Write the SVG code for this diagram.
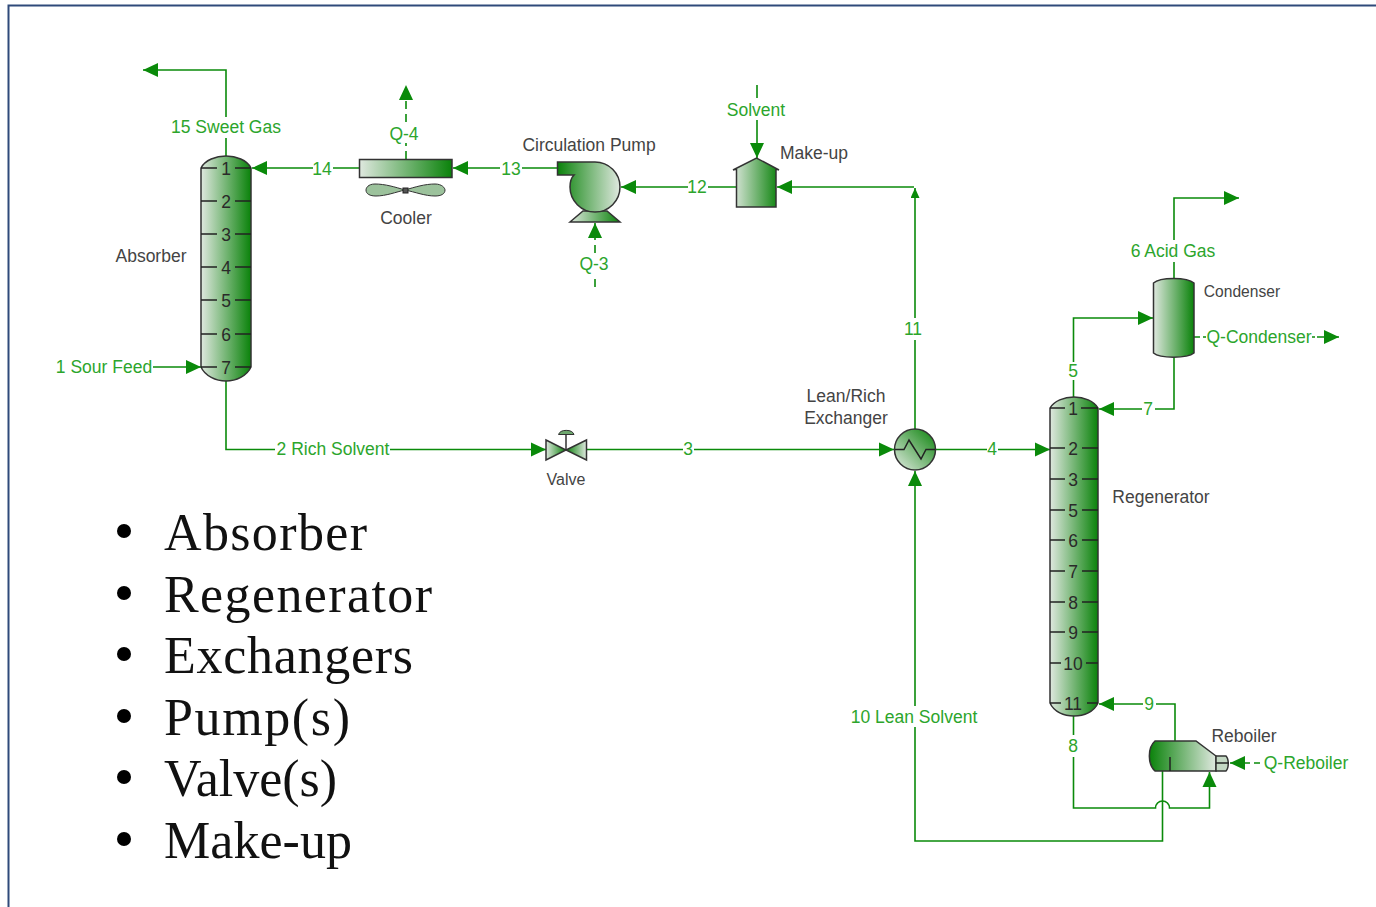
<svg xmlns="http://www.w3.org/2000/svg" width="1376" height="907" viewBox="0 0 1376 907">
<style>
.c{fill:none;stroke:#0a8a0a;stroke-width:1.6}
.d{stroke-dasharray:8 5}
.s{stroke:#333;stroke-width:1.5}
.t{stroke:#222;stroke-width:1.5;fill:none}
text{font-family:"Liberation Sans",Arial,sans-serif;transform:translateY(.8px)}
.g{font-size:17.500px;fill:#2ca52c;text-anchor:middle}
.k{font-size:17.500px;fill:#444;text-anchor:middle}
.n{font-size:17.500px;fill:#2a2a2a;text-anchor:middle}
.b{font-family:"Liberation Serif",serif;font-size:52px;fill:#111}
</style>
<defs>
<linearGradient id="lr"><stop offset="0" stop-color="#dfe8df"/><stop offset="1" stop-color="#0a820a"/></linearGradient>
<linearGradient id="rl"><stop offset="0" stop-color="#0a820a"/><stop offset="1" stop-color="#dfe8df"/></linearGradient>
<linearGradient id="dg" x1="0" y1="1" x2="1" y2="0"><stop offset="0" stop-color="#e4ece4"/><stop offset="1" stop-color="#0a820a"/></linearGradient>
<marker id="a" markerUnits="userSpaceOnUse" markerWidth="16" markerHeight="16" refX="15" refY="7.500" orient="auto"><path d="M0 0.500L15 7.500L0 14.500Z" fill="#0a8a0a"/></marker>
<marker id="m" markerUnits="userSpaceOnUse" markerWidth="11" markerHeight="10" refX="10" refY="4.500" orient="auto"><path d="M0 0L10 4.500L0 9Z" fill="#0a8a0a"/></marker>
</defs>
<path d="M8.500 907V5.500H1376" fill="none" stroke="#2f4a7a" stroke-width="2"/>
<g id="connectors">
<path class="c" d="M226 157V138M226 117V70H143" marker-end="url(#a)"/>
<path class="c" d="M359 168H333M313 168H252" marker-end="url(#a)"/>
<path class="c" d="M557 168H522M500 168H453" marker-end="url(#a)"/>
<path class="c" d="M736 187H708M688 187H621" marker-end="url(#a)"/>
<path class="c" d="M915 429V340M915 318V188" marker-end="url(#m)"/>
<path class="c" d="M914 187H777" marker-end="url(#a)"/>
<path class="c" d="M757 85V98M757 120V158" marker-end="url(#a)"/>
<path class="c d" d="M406 159V143"/>
<path class="c d" d="M406 122V85" marker-end="url(#a)"/>
<path class="c d" d="M595 287V275"/>
<path class="c d" d="M595 253V223" marker-end="url(#a)"/>
<path class="c" d="M153 367H201" marker-end="url(#a)"/>
<path class="c" d="M226 381V449.500H275M390 449.500H546" marker-end="url(#a)"/>
<path class="c" d="M587 449.500H683M694 449.500H894" marker-end="url(#a)"/>
<path class="c" d="M936 449.500H987M998 449.500H1050" marker-end="url(#a)"/>
<path class="c" d="M1073.500 397V380M1073.500 362V318H1153" marker-end="url(#a)"/>
<path class="c" d="M1174 278V262M1174 240V198H1239" marker-end="url(#a)"/>
<path class="c" d="M1174 357V409H1155M1142 409H1099" marker-end="url(#a)"/>
<path class="c" d="M1194 337H1200M1203 337H1206M1312 337H1315M1317 337H1339" marker-end="url(#a)"/>
<path class="c" d="M1073.500 716V735M1073.500 757V808H1155.500A7 7 0 0 1 1169.500 808H1209.500V772" marker-end="url(#a)"/>
<path class="c" d="M1175 741V704H1156M1143 704H1099" marker-end="url(#a)"/>
<path class="c" d="M1162.500 771V841H915V727M915 706V471" marker-end="url(#a)"/>
<path class="c" d="M1260 763H1254M1250 763H1230" marker-end="url(#a)"/>
</g>
<g id="absorber">
<path class="s" fill="url(#lr)" d="M201 168C205 160 216 156 226 156S247 160 251 168V367C247 376 236 381 226 381S205 376 201 367Z"/>
<path class="t" d="M201 168H217M235 168H251M201 201H217M235 201H251M201 234H217M235 234H251M201 267H217M235 267H251M201 300H217M235 300H251M201 334H217M235 334H251M201 367H217M235 367H251"/>
<text class="n" x="226" y="174">1</text>
<text class="n" x="226" y="207">2</text>
<text class="n" x="226" y="240">3</text>
<text class="n" x="226" y="273">4</text>
<text class="n" x="226" y="306">5</text>
<text class="n" x="226" y="340">6</text>
<text class="n" x="226" y="373">7</text>
<text class="k" x="151" y="261">Absorber</text>
</g>
<g id="cooler">
<rect class="s" x="359.500" y="159.500" width="92.500" height="18" fill="url(#lr)"/>
<path fill="#9cc29c" stroke="#333" d="M405 190C395 187 385 184 375 184C368 184 366 188 366 190C366 194 370 196 376 196C386 196 396 192 405 190C415 187 425 184 435 184C442 184 445 188 445 190C445 194 441 196 435 196C425 196 415 192 405 190Z"/>
<rect x="403" y="188" width="5" height="5" fill="#555" stroke="#222"/>
<text class="k" x="406" y="223">Cooler</text>
</g>
<g id="pump">
<path class="s" fill="url(#lr)" d="M570 222L583 211H607L620 222Z"/>
<path class="s" fill="url(#rl)" d="M557.500 162H595A25 25 0 1 1 570 187C570 182 571 178 574 175H557.500Z"/>
<text class="k" x="589" y="150">Circulation Pump</text>
</g>
<g id="makeup">
<path class="s" fill="url(#lr)" d="M736.500 207V169L733 170L756.500 158L779 170L776 169V207Z"/>
<text class="k" x="814" y="158">Make-up</text>
</g>
<g id="valve">
<path class="s" fill="url(#lr)" d="M546 440L566 450L546 460Z"/>
<path class="s" fill="url(#rl)" d="M586.500 440L566 450L586.500 460Z"/>
<path class="s" d="M566 450V434" fill="none"/>
<path fill="#6fa86f" stroke="#333" d="M558.500 434.500A8 5.500 0 0 1 574 434.500Z"/>
<text class="k" x="566" y="484" style="font-size:16px">Valve</text>
</g>
<g id="exchanger">
<circle class="s" cx="915" cy="449.500" r="20.500" fill="url(#dg)"/>
<path class="t" d="M895 449.500H904L909 440L921 459L926 449.500H935"/>
<text class="k" x="846" y="401">Lean/Rich</text>
<text class="k" x="846" y="423">Exchanger</text>
</g>
<g id="regenerator">
<path class="s" fill="url(#lr)" d="M1050 408C1054 401 1064 397 1074 397S1094 401 1098 408V703C1094 712 1084 716 1074 716S1054 712 1050 703Z"/>
<path class="t" d="M1050 408H1065M1081 408H1098M1050 448H1065M1082 448H1098M1050 479H1065M1082 479H1098M1050 510H1065M1082 510H1098M1050 540H1065M1082 540H1098M1050 571H1065M1082 571H1098M1050 602H1065M1082 602H1098M1050 632H1065M1082 632H1098M1050 663H1061M1086 663H1098M1050 703H1061M1087 703H1098"/>
<text class="n" x="1073" y="414">1</text>
<text class="n" x="1073" y="454">2</text>
<text class="n" x="1073" y="485">3</text>
<text class="n" x="1073" y="516">5</text>
<text class="n" x="1073" y="546">6</text>
<text class="n" x="1073" y="577">7</text>
<text class="n" x="1073" y="608">8</text>
<text class="n" x="1073" y="638">9</text>
<text class="n" x="1073" y="669">10</text>
<text class="n" x="1073" y="709">11</text>
<text class="k" x="1161" y="502">Regenerator</text>
</g>
<g id="condenser">
<path class="s" fill="url(#lr)" d="M1153.500 283C1160 277 1187 277 1194 283V353C1187 358.500 1160 358.500 1153.500 353Z"/>
<text class="k" x="1242" y="296" style="font-size:15.600px">Condenser</text>
</g>
<g id="reboiler">
<path class="s" fill="url(#rl)" d="M1155 741H1196L1216 756V771H1155C1148 765 1147 748 1155 741Z"/>
<path class="s" fill="#c3d8c3" d="M1216 756H1226C1229 759 1229 768 1226 771H1216Z"/>
<path class="t" d="M1216 763H1229M1170 757V771"/>
<text class="k" x="1244" y="741">Reboiler</text>
</g>
<g id="labels">
<text class="g" x="226" y="132">15 Sweet Gas</text>
<text class="g" x="322" y="174">14</text>
<text class="g" x="511" y="174">13</text>
<text class="g" x="697" y="192">12</text>
<text class="g" x="404" y="139">Q-4</text>
<text class="g" x="594" y="269">Q-3</text>
<text class="g" x="756" y="115">Solvent</text>
<text class="g" x="104" y="372">1 Sour Feed</text>
<text class="g" x="333" y="454">2 Rich Solvent</text>
<text class="g" x="688" y="454">3</text>
<text class="g" x="992" y="454">4</text>
<text class="g" x="913" y="334">11</text>
<text class="g" x="1073" y="376">5</text>
<text class="g" x="1173" y="256">6 Acid Gas</text>
<text class="g" x="1148" y="414">7</text>
<text class="g" x="1259" y="342">Q-Condenser</text>
<text class="g" x="1073" y="751">8</text>
<text class="g" x="1149" y="709">9</text>
<text class="g" x="914" y="722">10 Lean Solvent</text>
<text class="g" x="1306" y="768">Q-Reboiler</text>
</g>
<g id="bullets">
<circle cx="124" cy="531" r="7"/><text class="b" x="164" y="549" textLength="203">Absorber</text>
<circle cx="124" cy="593" r="7"/><text class="b" x="164" y="611" textLength="268">Regenerator</text>
<circle cx="124" cy="654" r="7"/><text class="b" x="164" y="672" textLength="249">Exchangers</text>
<circle cx="124" cy="716" r="7"/><text class="b" x="164" y="734" textLength="186">Pump(s)</text>
<circle cx="124" cy="777" r="7"/><text class="b" x="164" y="795" textLength="173">Valve(s)</text>
<circle cx="124" cy="839" r="7"/><text class="b" x="164" y="857" textLength="188">Make-up</text>
</g>
</svg>
